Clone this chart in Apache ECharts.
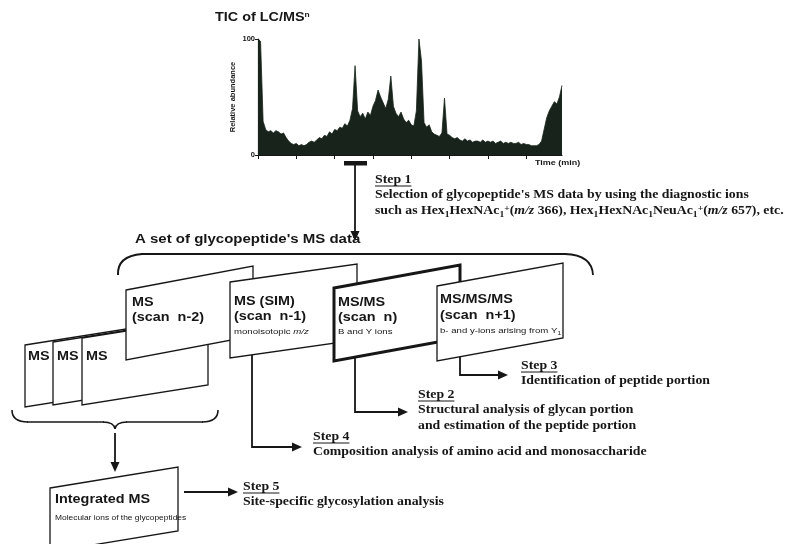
<!DOCTYPE html>
<html>
<head>
<meta charset="utf-8">
<script src="https://cdn.jsdelivr.net/npm/echarts@6/dist/echarts.min.js"></script>
<style>
  html, body { margin: 0; background: #fff; }
  #chart { width: 808px; height: 544px; }
</style>
</head>
<body>
<div id="chart"></div>
<script>
// TIC of LC/MS^n, relative abundance (%) per scan
const ticAbundance = [
  100, 98, 29, 22, 20, 21, 19, 21, 20, 18, 19, 15, 12, 10, 9, 10, 8, 9, 8, 9,
  11, 12, 11, 13, 15, 14, 17, 16, 20, 18, 22, 21, 24, 23, 27, 25, 30, 40, 77, 38,
  33, 36, 31, 37, 34, 42, 47, 56, 50, 45, 40, 48, 68, 42, 36, 33, 37, 31, 28, 30,
  26, 25, 38, 100, 81, 28, 24, 26, 20, 18, 17, 16, 19, 49, 18, 17, 15, 14, 15, 13,
  12, 14, 12, 13, 11, 12, 12, 11, 13, 11, 12, 11, 12, 10, 11, 12, 10, 11, 10, 11,
  10, 10, 11, 9, 10, 9, 9, 8, 8, 8, 9, 12, 22, 32, 38, 42, 46, 44, 50, 60
];
const yTicks = [0, 100];

const SANS = '"Liberation Sans", Arial, sans-serif';
const SERIF = '"Liberation Serif", "Times New Roman", serif';
const INK = '#161616';
const SX = 1.2; // the scan is stretched sideways

const ctx = document.createElement('canvas').getContext('2d');
function textWidth(str, font) {
  ctx.font = font;
  return ctx.measureText(str).width;
}

function label(x, y, text, font, rich) {
  const style = { text: text, font: font, fill: INK, verticalAlign: 'middle', align: 'left' };
  if (rich) style.rich = rich;
  return { type: 'text', x: x, y: y, scaleX: SX, z: 20, style: style };
}

let boxZ = 1;
function box(L, R, yT, yB, rise, w) {
  return {
    type: 'polygon', z: 5, z2: boxZ++,
    shape: { points: [[L, yT], [R, yT - rise], [R, yB - rise], [L, yB]] },
    style: { fill: '#fff', stroke: INK, lineWidth: w || 1.3 }
  };
}

function arrow(pts, w) {
  const [x1, y1] = pts[pts.length - 2];
  const [x2, y2] = pts[pts.length - 1];
  const a = Math.atan2(y2 - y1, x2 - x1);
  const len = 10, half = 4.5;
  const bx = x2 - len * Math.cos(a), by = y2 - len * Math.sin(a);
  return [
    { type: 'polyline', z: 15, shape: { points: pts.slice(0, -1).concat([[bx + Math.cos(a), by + Math.sin(a)]]) },
      style: { stroke: INK, lineWidth: w || 1.8, fill: null } },
    { type: 'polygon', z: 15,
      shape: { points: [[x2, y2], [bx - half * Math.sin(a), by + half * Math.cos(a)], [bx + half * Math.sin(a), by - half * Math.cos(a)]] },
      style: { fill: INK } }
  ];
}

const stepFont = 'bold 11.5px ' + SERIF;
function step(x, y, title, lines) {
  const w = textWidth(title, stepFont) * SX;
  const els = [
    label(x, y, title, stepFont),
    { type: 'line', z: 20, shape: { x1: x, y1: y + 6, x2: x + w, y2: y + 6 }, style: { stroke: INK, lineWidth: 1 } }
  ];
  lines.forEach((t, i) => els.push(label(x, y + 15.5 * (i + 1), t, stepFont)));
  return els;
}

const subRich = {
  sub: { font: 'bold 8px ' + SERIF, fill: INK, verticalAlign: 'bottom', padding: [6, 0, 0, 0] },
  sup: { font: 'bold 8px ' + SERIF, fill: INK, verticalAlign: 'top', padding: [0, 0, 5, 0] },
  it: { font: 'italic bold 11.5px ' + SERIF, fill: INK }
};

const boxBig = 'bold 12px ' + SANS;
const boxSmall = '8px ' + SANS;

const elements = [].concat(
  // title of the chromatogram
  label(215, 18, 'TIC of LC/MS{sup|n}', 'bold 12px ' + SANS,
    { sup: { font: 'bold 7px ' + SANS, fill: INK, verticalAlign: 'top', padding: [0, 0, 6, 0] } }),
  label(535, 163, 'Time (min)', 'bold 7.5px ' + SANS),

  // step 1: selection
  { type: 'rect', z: 15, shape: { x: 344, y: 161, width: 23, height: 4.5 }, style: { fill: INK } },
  arrow([[355, 163], [355, 241]]),
  step(375, 180, 'Step 1', ["Selection of glycopeptide's MS data by using the diagnostic ions"]),
  label(375, 211.5, 'such as Hex{sub|1}HexNAc{sub|1}{sup|+}({it|m/z} 366), Hex{sub|1}HexNAc{sub|1}NeuAc{sub|1}{sup|+}({it|m/z} 657), etc.', stepFont, subRich),

  label(135, 240, "A set of glycopeptide's MS data", 'bold 12.5px ' + SANS),

  // upper bracket
  { type: 'bezierCurve', z: 4, shape: { x1: 118, y1: 275, cpx1: 117, cpy1: 256, x2: 142, y2: 254 }, style: { stroke: INK, lineWidth: 2, fill: null } },
  { type: 'line', z: 4, shape: { x1: 141, y1: 254, x2: 566, y2: 254 }, style: { stroke: INK, lineWidth: 2 } },
  { type: 'bezierCurve', z: 4, shape: { x1: 565, y1: 254, cpx1: 592, cpy1: 255, x2: 593, y2: 275 }, style: { stroke: INK, lineWidth: 1.8, fill: null } },

  // stacked spectra, back to front
  box(25, 151, 345, 407, 20),
  box(53, 179, 342, 405, 20),
  box(82, 208, 338, 405, 20),
  box(126, 253, 290, 360, 24),
  box(230, 357, 282, 358, 18),
  box(334, 460, 288, 361, 23, 3),
  box(437, 563, 286, 361, 23),

  label(28, 357, 'MS', boxBig),
  label(57, 357, 'MS', boxBig),
  label(86, 357, 'MS', boxBig),
  label(132, 303, 'MS', boxBig),
  label(132, 318, '(scan  n-2)', boxBig),
  label(234, 302, 'MS (SIM)', boxBig),
  label(234, 317, '(scan  n-1)', boxBig),
  label(234, 332, 'monoisotopic {it|m/z}', boxSmall, { it: { font: 'italic 8px ' + SANS, fill: INK } }),
  label(338, 303, 'MS/MS', boxBig),
  label(338, 318, '(scan  n)', boxBig),
  label(338, 332, 'B and Y ions', boxSmall),
  label(440, 300, 'MS/MS/MS', boxBig),
  label(440, 316, '(scan  n+1)', boxBig),
  label(440, 331, 'b- and y-ions arising from Y{s|1}', boxSmall,
    { s: { font: '5.5px ' + SANS, fill: INK, verticalAlign: 'bottom', padding: [5, 0, 0, 0] } }),

  // steps 2-4 from the scans
  arrow([[355, 357], [355, 412], [408, 412]]),
  step(418, 395, 'Step 2', ['Structural analysis of glycan portion', 'and estimation of the peptide portion']),
  arrow([[460, 357], [460, 375], [508, 375]]),
  step(521, 366, 'Step 3', ['Identification of peptide portion']),
  arrow([[252, 355], [252, 447], [302, 447]]),
  step(313, 437, 'Step 4', ['Composition analysis of amino acid and monosaccharide']),

  // lower brace under the MS scans
  { type: 'bezierCurve', z: 4, shape: { x1: 12, y1: 410, cpx1: 12, cpy1: 422, x2: 28, y2: 422 }, style: { stroke: INK, lineWidth: 1.6, fill: null } },
  { type: 'line', z: 4, shape: { x1: 27, y1: 422, x2: 104, y2: 422 }, style: { stroke: INK, lineWidth: 1.6 } },
  { type: 'bezierCurve', z: 4, shape: { x1: 103, y1: 422, cpx1: 114, cpy1: 422, x2: 115, y2: 429 }, style: { stroke: INK, lineWidth: 1.6, fill: null } },
  { type: 'bezierCurve', z: 4, shape: { x1: 115, y1: 429, cpx1: 116, cpy1: 422, x2: 127, y2: 422 }, style: { stroke: INK, lineWidth: 1.6, fill: null } },
  { type: 'line', z: 4, shape: { x1: 126, y1: 422, x2: 203, y2: 422 }, style: { stroke: INK, lineWidth: 1.6 } },
  { type: 'bezierCurve', z: 4, shape: { x1: 202, y1: 422, cpx1: 218, cpy1: 422, x2: 218, y2: 410 }, style: { stroke: INK, lineWidth: 1.6, fill: null } },
  arrow([[115, 433], [115, 472]]),

  // integrated MS and step 5
  box(50, 178, 488, 552, 21),
  label(55, 500, 'Integrated MS', boxBig),
  label(55, 518, 'Molecular ions of the glycopeptides', '7px ' + SANS),
  arrow([[184, 492], [238, 492]]),
  step(243, 487, 'Step 5', ['Site-specific glycosylation analysis'])
);

const chart = echarts.init(document.getElementById('chart'), null, { renderer: 'canvas' });
chart.setOption({
  animation: false,
  backgroundColor: '#fff',
  grid: { left: 258, top: 39, width: 304, height: 116 },
  xAxis: {
    type: 'category',
    boundaryGap: false,
    axisLine: { lineStyle: { color: INK, width: 1.2 } },
    axisTick: { show: true, interval: 14, length: 4, lineStyle: { color: INK } },
    axisLabel: { show: false },
    splitLine: { show: false }
  },
  yAxis: {
    type: 'value',
    min: yTicks[0],
    max: yTicks[yTicks.length - 1],
    interval: yTicks[1] - yTicks[0],
    name: 'Relative abundance',
    nameLocation: 'middle',
    nameGap: 21,
    nameRotate: 90,
    nameTextStyle: { fontFamily: SANS, fontWeight: 'bold', fontSize: 7.5, color: INK },
    axisLine: { show: true, lineStyle: { color: INK, width: 1.2 } },
    axisTick: { show: true, length: 3, lineStyle: { color: INK } },
    axisLabel: { fontFamily: SANS, fontWeight: 'bold', fontSize: 7.5, color: INK, margin: 3 },
    splitLine: { show: false }
  },
  series: [{
    type: 'line',
    data: ticAbundance,
    symbol: 'none',
    lineStyle: { color: '#18241b', width: 0.8 },
    areaStyle: { color: '#18241b', opacity: 1 }
  }],
  graphic: elements
});
</script>
</body>
</html>
